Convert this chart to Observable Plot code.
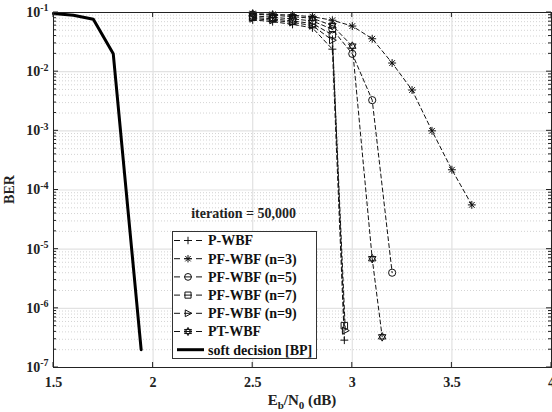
<!DOCTYPE html>
<html><head><meta charset="utf-8">
<script src="https://cdn.jsdelivr.net/npm/d3@7"></script>
<script src="https://cdn.jsdelivr.net/npm/@observablehq/plot@0.6"></script>
<style>
body{margin:0;background:#fff;}
#chart svg{display:block;}
</style></head><body><div id="chart"></div>
<script>
// ---- data ----
const pwbfX = [2.5, 2.6, 2.7, 2.8, 2.9, 2.96];
const pwbfY = [0.075, 0.070, 0.063, 0.055, 0.024, 2.9e-7];
const pf3X = [2.5, 2.6, 2.7, 2.8, 2.9, 3.0, 3.1, 3.2, 3.3, 3.4, 3.5, 3.6];
const pf3Y = [0.096, 0.093, 0.090, 0.085, 0.074, 0.059, 0.036, 0.014, 0.0049, 0.001, 2.2e-4, 5.6e-5];
const pf5X = [2.5, 2.6, 2.7, 2.8, 2.9, 3.0, 3.1, 3.2];
const pf5Y = [0.088, 0.083, 0.078, 0.072, 0.052, 0.020, 0.0033, 4.0e-6];
const pf7X = [2.5, 2.6, 2.7, 2.8, 2.9, 2.96];
const pf7Y = [0.083, 0.078, 0.072, 0.065, 0.042, 5.1e-7];
const pf9X = [2.5, 2.6, 2.7, 2.8, 2.9, 2.965];
const pf9Y = [0.079, 0.074, 0.068, 0.060, 0.034, 4.2e-7];
const ptX = [2.5, 2.6, 2.7, 2.8, 2.9, 3.0, 3.1, 3.15];
const ptY = [0.094, 0.090, 0.085, 0.080, 0.060, 0.027, 6.9e-6, 3.3e-7];
const bpX = [1.5, 1.6, 1.7, 1.8, 1.94];
const bpY = [0.096, 0.090, 0.077, 0.020, 2.0e-7];

const xTicks = [1.5, 2, 2.5, 3, 3.5, 4];
const yExps = [-7, -6, -5, -4, -3, -2, -1];
const seriesNames = ["P-WBF", "PF-WBF (n=3)", "PF-WBF (n=5)", "PF-WBF (n=7)", "PF-WBF (n=9)", "PT-WBF", "soft decision [BP]"];
const annotation = "iteration = 50,000";

// ---- symbols ----
function sym(fn){ return {draw(c, size){ fn(c, Math.sqrt(size / Math.PI)); }}; }
const plusSym = sym((c, r) => { r *= 1.1; c.moveTo(-r, 0); c.lineTo(r, 0); c.moveTo(0, -r); c.lineTo(0, r); });
const starSym = sym((c, r) => { r *= 1.1; const d = r * 0.72;
  c.moveTo(-r, 0); c.lineTo(r, 0); c.moveTo(0, -r); c.lineTo(0, r);
  c.moveTo(-d, -d); c.lineTo(d, d); c.moveTo(-d, d); c.lineTo(d, -d); });
const circSym = sym((c, r) => { c.moveTo(r, 0); c.arc(0, 0, r, 0, 2 * Math.PI); });
const sqSym = sym((c, r) => { r *= 0.9; c.rect(-r, -r, 2 * r, 2 * r); });
const triSym = sym((c, r) => { c.moveTo(r * 1.1, 0); c.lineTo(-r * 0.8, -r); c.lineTo(-r * 0.8, r); c.closePath(); });
const hexSym = sym((c, r) => { const R = r * 1.2;
  for (const a0 of [-90, 90]) { for (let i = 0; i < 3; i++) { const a = (a0 + i * 120) * Math.PI / 180;
    const x = R * Math.cos(a), y = R * Math.sin(a); i ? c.lineTo(x, y) : c.moveTo(x, y); } c.closePath(); } });

const series = [
  {name: seriesNames[0], xs: pwbfX, ys: pwbfY, symbol: plusSym},
  {name: seriesNames[1], xs: pf3X, ys: pf3Y, symbol: starSym},
  {name: seriesNames[2], xs: pf5X, ys: pf5Y, symbol: circSym},
  {name: seriesNames[3], xs: pf7X, ys: pf7Y, symbol: sqSym},
  {name: seriesNames[4], xs: pf9X, ys: pf9Y, symbol: triSym},
  {name: seriesNames[5], xs: ptX, ys: ptY, symbol: hexSym}
];
const toRows = s => s.xs.map((x, i) => ({x, y: s.ys[i]}));
const bpRows = bpX.map((x, i) => ({x, y: bpY[i]}));

const decades = yExps.map(e => Math.pow(10, e));
const minors = [];
for (const e of yExps.slice(0, -1)) for (let k = 2; k <= 9; k++) minors.push(k * Math.pow(10, e));

const font = "'Liberation Serif', 'Times New Roman', serif";
const W = 552, H = 412;
const marks = [
  Plot.ruleY(minors, {stroke: "#c8c8c8", strokeDasharray: "1,2", strokeWidth: 0.8}),
  Plot.ruleY(decades, {stroke: "#e2e2e2", strokeWidth: 1.2}),
  Plot.ruleX(xTicks, {stroke: "#e2e2e2", strokeWidth: 1.2})
];
for (const s of series) {
  const rows = toRows(s);
  marks.push(Plot.line(rows, {x: "x", y: "y", stroke: "#111", strokeWidth: 1, strokeDasharray: "4,3"}));
  marks.push(Plot.dot(rows, {x: "x", y: "y", symbol: () => s.symbol, r: 3.6, stroke: "#111", fill: "none", strokeWidth: 1}));
}
marks.push(Plot.line(bpRows, {x: "x", y: "y", stroke: "#000", strokeWidth: 3}));
marks.push(Plot.frame({stroke: "#222", strokeWidth: 1}));
marks.push(Plot.axisX(xTicks, {tickSize: 0, tickPadding: 10, tickFormat: d => String(d), label: null}));
marks.push(Plot.axisY(decades, {tickSize: 0, tickPadding: 5, tickFormat: d => String(Math.round(Math.log10(d))), label: null}));

const chart = Plot.plot({
  width: W, height: H,
  marginLeft: 53, marginRight: 1, marginTop: 12, marginBottom: 45,
  x: {domain: [1.5, 4]},
  y: {type: "log", domain: [1e-7, 1e-1]},
  style: {fontFamily: font, fontSize: "14px", fontWeight: "bold", color: "#222", background: "#fff", overflow: "visible"},
  marks
});
document.getElementById("chart").appendChild(chart);

const sx = chart.scale("x"), sy = chart.scale("y");
const svg = d3.select(chart);
const xl = sx.apply(1.5), xr = sx.apply(4), yt = sy.apply(1e-1), yb = sy.apply(1e-7);

// superscript tick labels
svg.selectAll('g[aria-label="y-axis tick label"] text').each(function() {
  const t = d3.select(this); const e = t.text();
  t.text(""); t.append("tspan").text("10");
  t.append("tspan").attr("dy", "-0.55em").attr("font-size", "10px").text(e.replace("\u2212", "-"));
});

// inward ticks
const tg = svg.append("g").attr("stroke", "#222").attr("stroke-width", 1);
for (const v of xTicks) { const x = sx.apply(v);
  tg.append("line").attr("x1", x).attr("x2", x).attr("y1", yb).attr("y2", yb - 5);
  tg.append("line").attr("x1", x).attr("x2", x).attr("y1", yt).attr("y2", yt + 5); }
for (const v of decades) { const y = sy.apply(v);
  tg.append("line").attr("x1", xl).attr("x2", xl + 5).attr("y1", y).attr("y2", y);
  tg.append("line").attr("x1", xr).attr("x2", xr - 5).attr("y1", y).attr("y2", y); }
for (const v of minors) { const y = sy.apply(v);
  tg.append("line").attr("x1", xl).attr("x2", xl + 3).attr("y1", y).attr("y2", y);
  tg.append("line").attr("x1", xr).attr("x2", xr - 3).attr("y1", y).attr("y2", y); }

// axis labels
const tf = svg.append("g").attr("font-family", font).attr("font-weight", "bold").attr("fill", "#222");
tf.append("text").attr("transform", `translate(14,${(yt + yb) / 2}) rotate(-90)`).attr("text-anchor", "middle")
  .attr("font-size", "14px").text("BER");
const xlab = tf.append("text").attr("x", (xl + xr) / 2).attr("y", 405).attr("text-anchor", "middle").attr("font-size", "15px");
xlab.append("tspan").text("E");
xlab.append("tspan").attr("dy", "4").attr("font-size", "11px").text("b");
xlab.append("tspan").attr("dy", "-4").text("/N");
xlab.append("tspan").attr("dy", "4").attr("font-size", "11px").text("0");
xlab.append("tspan").attr("dy", "-4").text(" (dB)");

// annotation
tf.append("text").attr("x", 296).attr("y", 218).attr("text-anchor", "end").attr("font-size", "14px").text(annotation);

// legend
const lg = svg.append("g").attr("font-family", font).attr("font-weight", "bold").attr("font-size", "14px");
lg.append("rect").attr("x", 172.5).attr("y", 231.5).attr("width", 144).attr("height", 127)
  .attr("fill", "#fff").attr("stroke", "#333").attr("stroke-width", 1);
seriesNames.forEach((name, i) => {
  const cy = 240.5 + i * 18.2;
  if (i < 6) {
    lg.append("line").attr("x1", 174).attr("x2", 202).attr("y1", cy).attr("y2", cy)
      .attr("stroke", "#111").attr("stroke-width", 1).attr("stroke-dasharray", "6,4,8,4,6");
    lg.append("path").attr("transform", `translate(188,${cy})`)
      .attr("d", d3.symbol(series[i].symbol, 3.4 * 3.4 * Math.PI)())
      .attr("fill", "none").attr("stroke", "#111").attr("stroke-width", 1);
  } else {
    lg.append("line").attr("x1", 177).attr("x2", 204).attr("y1", cy).attr("y2", cy)
      .attr("stroke", "#000").attr("stroke-width", 3);
  }
  lg.append("text").attr("x", 208).attr("y", cy).attr("dy", "0.35em").attr("text-anchor", "start")
    .attr("fill", "#111").text(name);
});
</script>
</body></html>
